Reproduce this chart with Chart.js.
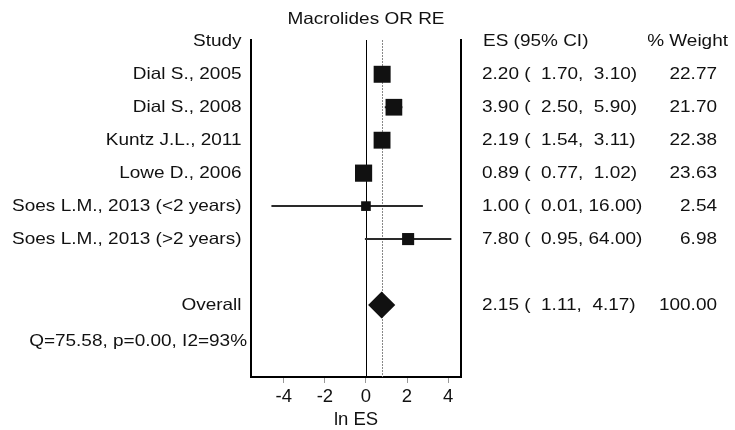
<!DOCTYPE html>
<html>
<head>
<meta charset="utf-8">
<script src="https://cdn.jsdelivr.net/npm/chart.js@4"></script>
<style>
  html, body { margin: 0; padding: 0; background: #fff; }
  canvas { display: block; }
</style>
</head>
<body>
<canvas id="forest" width="735" height="430"></canvas>
<script>
// values
var studies = ["Dial S., 2005", "Dial S., 2008", "Kuntz J.L., 2011", "Lowe D., 2006",
               "Soes L.M., 2013 (<2 years)", "Soes L.M., 2013 (>2 years)"];
var es      = [2.20, 3.90, 2.19, 0.89, 1.00, 7.80];
var ciLow   = [1.70, 2.50, 1.54, 0.77, 0.01, 0.95];
var ciHigh  = [3.10, 5.90, 3.11, 1.02, 16.00, 64.00];
var weights = [22.77, 21.70, 22.38, 23.63, 2.54, 6.98];
var overallEs = 2.15, overallLow = 1.11, overallHigh = 4.17, overallWeight = 100.00;
var xTicks = [-4, -2, 0, 2, 4];
var heterogeneity = "Q=75.58, p=0.00, I2=93%";

var FONT = '"Liberation Sans", Arial, sans-serif';
var SX = 1.15;           // text in the reference is a bit stretched sideways
var OVERALL_ROW = 8;

function fmt(v) { return v.toFixed(2); }
function pad(v) { return v.toFixed(2).padStart(5, " "); }

// draw horizontally stretched text
function txt(ctx, s, x, y, align, size) {
    ctx.save();
    ctx.font = (size || 16.5) + "px " + FONT;
    ctx.fillStyle = "#111";
    ctx.textBaseline = "middle";
    ctx.textAlign = align;
    ctx.translate(x, y);
    ctx.scale(SX, 1);
    ctx.fillText(s, 0, 0);
    ctx.restore();
}

// datasets: boxes first so they sit on top of the CI lines
var boxData = es.map(function(v, i) { return { x: Math.log(v), y: i + 1 }; });
var datasets = [{
    label: "ES",
    data: boxData,
    pointStyle: "rect",
    backgroundColor: "#111",
    borderColor: "#111",
    borderWidth: 0,
    pointRadius: function(c) {
        var side = 6 + 2.3 * Math.sqrt(weights[c.dataIndex]);
        return side / Math.SQRT2;
    },
    showLine: false
}];
studies.forEach(function(s, i) {
    datasets.push({
        label: s,
        data: [{ x: Math.log(ciLow[i]), y: i + 1 }, { x: Math.log(ciHigh[i]), y: i + 1 }],
        showLine: true,
        borderColor: "#2a2a2a",
        borderWidth: 2,
        pointRadius: 0
    });
});

var forestPlugin = {
    id: "forest",
    beforeDatasetsDraw: function(chart) {
        var ctx = chart.ctx, a = chart.chartArea, x = chart.scales.x;
        ctx.save();
        // line of no effect
        var x0 = Math.round(x.getPixelForValue(0)) + 0.5;
        ctx.strokeStyle = "#000";
        ctx.lineWidth = 1;
        ctx.beginPath(); ctx.moveTo(x0, a.top); ctx.lineTo(x0, a.bottom); ctx.stroke();
        // overall effect, dotted
        var xo = Math.round(x.getPixelForValue(Math.log(overallEs))) + 0.5;
        ctx.strokeStyle = "#888";
        ctx.setLineDash([2, 1]);
        ctx.beginPath(); ctx.moveTo(xo, a.top); ctx.lineTo(xo, a.bottom); ctx.stroke();
        ctx.setLineDash([]);
        // side frame lines
        ctx.strokeStyle = "#000";
        ctx.lineWidth = 2;
        ctx.beginPath();
        ctx.moveTo(a.left, a.top - 1); ctx.lineTo(a.left, a.bottom);
        ctx.moveTo(a.right, a.top - 1); ctx.lineTo(a.right, a.bottom);
        ctx.stroke();
        ctx.restore();
    },
    afterDatasetsDraw: function(chart) {
        var ctx = chart.ctx, x = chart.scales.x, y = chart.scales.y;
        // pooled diamond
        var yc = y.getPixelForValue(OVERALL_ROW), h = 13.5;
        ctx.save();
        ctx.fillStyle = "#111";
        ctx.beginPath();
        ctx.moveTo(x.getPixelForValue(Math.log(overallLow)), yc);
        ctx.lineTo(x.getPixelForValue(Math.log(overallEs)), yc - h);
        ctx.lineTo(x.getPixelForValue(Math.log(overallHigh)), yc);
        ctx.lineTo(x.getPixelForValue(Math.log(overallEs)), yc + h);
        ctx.closePath();
        ctx.fill();
        ctx.restore();
    },
    afterDraw: function(chart) {
        var ctx = chart.ctx, y = chart.scales.y, x = chart.scales.x;
        var labelRight = 241.5, esLeft = 482, wRight = 717;
        txt(ctx, "Macrolides OR RE", x.getPixelForValue(0), 19, "center");
        var y0 = y.getPixelForValue(0);
        txt(ctx, "Study", labelRight, y0, "right");
        txt(ctx, "ES (95% CI)", esLeft + 1, y0, "left");
        txt(ctx, "% Weight", 728, y0, "right");
        studies.forEach(function(s, i) {
            var yy = y.getPixelForValue(i + 1);
            txt(ctx, s, labelRight, yy, "right");
            txt(ctx, fmt(es[i]) + " ( " + pad(ciLow[i]) + ", " + pad(ciHigh[i]) + ")", esLeft, yy, "left");
            txt(ctx, fmt(weights[i]), wRight, yy, "right");
        });
        var yo = y.getPixelForValue(OVERALL_ROW);
        txt(ctx, "Overall", labelRight, yo, "right");
        txt(ctx, fmt(overallEs) + " ( " + pad(overallLow) + ", " + pad(overallHigh) + ")", esLeft, yo, "left");
        txt(ctx, fmt(overallWeight), wRight, yo, "right");
        txt(ctx, heterogeneity, 247, y.getPixelForValue(9.1), "right");
    }
};

new Chart(document.getElementById("forest"), {
    type: "scatter",
    data: { datasets: datasets },
    options: {
        responsive: false,
        animation: false,
        devicePixelRatio: 1,
        layout: { padding: { left: 251, right: 274, top: 40, bottom: 0 } },
        plugins: { legend: { display: false }, tooltip: { enabled: false } },
        scales: {
            x: {
                type: "linear",
                min: -5.6,
                max: 4.63,
                afterBuildTicks: function(s) { s.ticks = xTicks.map(function(v) { return { value: v }; }); },
                afterFit: function(s) { s.height = 53; },
                grid: { display: true, drawOnChartArea: false, drawTicks: true, tickLength: 6, color: "#999" },
                border: { display: true, color: "#000", width: 2 },
                ticks: { color: "#111", padding: 4, font: { family: FONT, size: 18.5, lineHeight: 1.1 } },
                title: { display: true, text: "ln ES", color: "#111", padding: { top: 0, bottom: 0 },
                         font: { family: FONT, size: 18.5, lineHeight: 1.1 } }
            },
            y: {
                type: "linear",
                min: -0.04,
                max: 10.185,
                reverse: true,
                display: false
            }
        }
    },
    plugins: [forestPlugin]
});
</script>
</body>
</html>
